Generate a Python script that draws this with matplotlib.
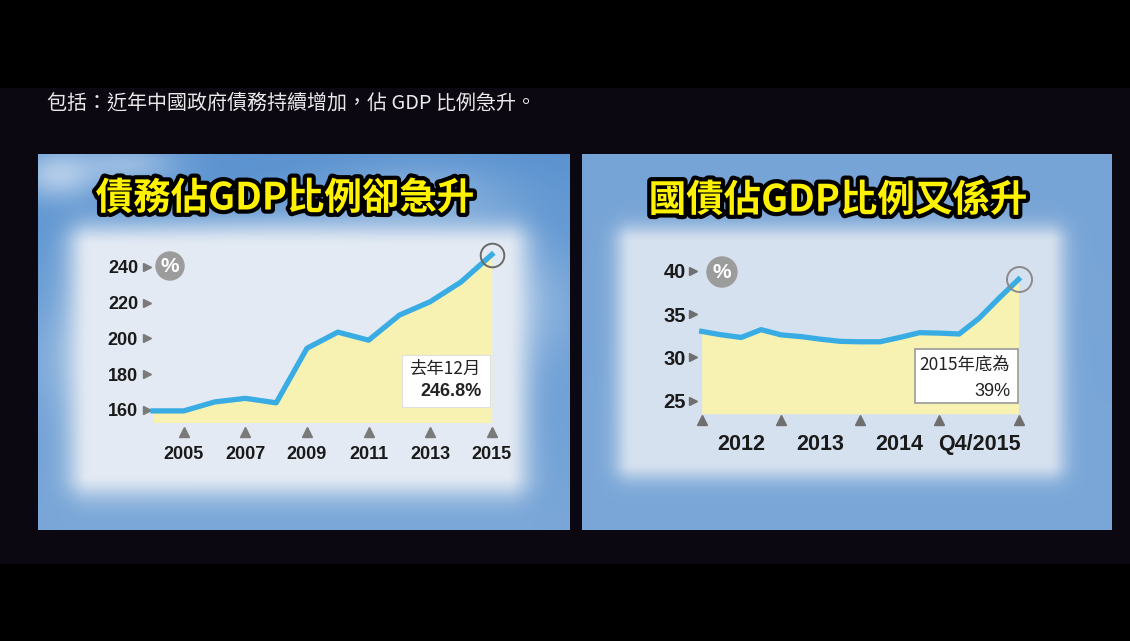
import numpy as np
import matplotlib
matplotlib.use("Agg")
import matplotlib.pyplot as plt
import matplotlib.patheffects as pe
from matplotlib.patches import Rectangle, Circle
import matplotlib.transforms as mtrans

# 資料：債務佔GDP比例 (年度) 及 國債佔GDP比例 (季度)
debt_years = [2004, 2005, 2006, 2007, 2008, 2009, 2010, 2011, 2012, 2013, 2014, 2015]
debt_ratio = [159.5, 159.5, 164.5, 166.5, 164.0, 194.5, 203.5, 199.0, 213.0, 220.5, 231.5, 246.8]
debt_xticks = [2005, 2007, 2009, 2011, 2013, 2015]
debt_yticks = [160, 180, 200, 220, 240]

gov_quarters = ["Q4/2011", "Q1/2012", "Q2/2012", "Q3/2012", "Q4/2012",
                "Q1/2013", "Q2/2013", "Q3/2013", "Q4/2013",
                "Q1/2014", "Q2/2014", "Q3/2014", "Q4/2014",
                "Q1/2015", "Q2/2015", "Q3/2015", "Q4/2015"]
gov_ratio = [33.0, 32.6, 32.3, 33.2, 32.6, 32.4, 32.1, 31.85, 31.8,
             31.8, 32.3, 32.85, 32.8, 32.7, 34.5, 36.8, 39.0]
gov_year_marks = [0, 4, 8, 12, 16]
gov_label_pos = [2, 6, 10, 14]
gov_labels = ["2012", "2013", "2014", "Q4/2015"]
gov_yticks = [25, 30, 35, 40]

caption = "包括：近年中國政府債務持續增加，佔 GDP 比例急升。"
title_left = "債務佔GDP比例卻急升"
title_right = "國債佔GDP比例又係升"

CJK = ["Noto Sans CJK TC", "DejaVu Sans"]
NUM = ["Liberation Sans Narrow", "Liberation Sans", "DejaVu Sans"]
LINE = "#38ace3"
FILL = "#f7f2b2"

W, H = 1130, 641
fig = plt.figure(figsize=(W / 100, H / 100), dpi=100, facecolor="black")

bg = fig.add_axes([0, 0, 1, 1])
bg.axis("off")


def soft_box(h, w, x0, x1, y0, y1, s):
    yy, xx = np.mgrid[0:h, 0:w]
    dx = np.maximum(np.maximum(x0 - xx, xx - x1), 0)
    dy = np.maximum(np.maximum(y0 - yy, yy - y1), 0)
    d = np.hypot(dx, dy)
    return np.exp(-(d / s) ** 2)


def hex2rgb(c):
    return np.array(matplotlib.colors.to_rgb(c))


def panel_img(w, h, top, bottom, inner, box, clouds=()):
    t = np.linspace(0, 1, h)[:, None, None]
    img = hex2rgb(top) * (1 - t) + hex2rgb(bottom) * t
    img = np.repeat(img, w, axis=1)
    yy, xx = np.mgrid[0:h, 0:w]
    for cx, cy, rx, ry, a in clouds:
        m = a * np.exp(-(((xx - cx) / rx) ** 2 + ((yy - cy) / ry) ** 2))
        img = img * (1 - m[..., None]) + np.ones(3) * m[..., None]
    m = soft_box(h, w, *box)
    img = img * (1 - m[..., None]) + hex2rgb(inner) * m[..., None]
    return np.clip(img, 0, 1)


# 背景
bg.add_patch(Rectangle((0, 88), W, 475, color="#0b0811", zorder=0))
left_clouds = [(20, 20, 40, 25, 0.5), (90, 10, 50, 20, 0.35), (380, 40, 90, 30, 0.25),
               (240, 110, 140, 40, 0.35), (460, 150, 80, 60, 0.3), (60, 200, 70, 60, 0.25)]
img_l = panel_img(532, 376, "#5b93d0", "#7aa7d8", "#e3eaf3", (52, 468, 92, 320, 24), left_clouds)
img_r = panel_img(530, 376, "#77a4d6", "#7aa7d8", "#d6e1ef", (50, 466, 88, 308, 18))
bg.imshow(img_l, extent=(38, 570, 530, 154), aspect="auto", zorder=1)
bg.imshow(img_r, extent=(582, 1112, 530, 154), aspect="auto", zorder=1)
bg.set_xlim(0, W)
bg.set_ylim(H, 0)

bg.text(47, 103, caption, color="#e9e9e9", fontsize=14.4, family=CJK, va="center", ha="left")

for txt, cx, cy in [(title_left, 285, 198), (title_right, 838, 200)]:
    bg.text(cx, cy, txt, color="#fff200", fontsize=27, family=CJK, fontweight="heavy",
            ha="center", va="center", zorder=5,
            path_effects=[pe.withStroke(linewidth=6, foreground="black")])


def px_axes(x0, y0, x1, y1):
    a = fig.add_axes([x0 / W, 1 - y1 / H, (x1 - x0) / W, (y1 - y0) / H])
    a.patch.set_alpha(0)
    for s in a.spines.values():
        s.set_visible(False)
    return a


# 左圖
ax = px_axes(145, 240, 520, 425)
ax.set_xlim(2003.74, 2015.916)
ax.set_ylim(151.62, 254.97)
ax.fill_between(debt_years, debt_ratio, 153, color=FILL, lw=0, zorder=1)
ax.plot(debt_years, debt_ratio, color=LINE, lw=3.8, solid_joinstyle="round", zorder=3)
ax.plot(debt_years[-1], debt_ratio[-1], "o", mfc="none", mec="#6a6a6a", ms=17, mew=1.4, zorder=4)
ax.set_xticks(debt_xticks, [str(y) for y in debt_xticks])
ax.set_yticks(debt_yticks, [str(v) for v in debt_yticks])
ax.tick_params(length=0)
ax.tick_params(axis="x", pad=15, labelsize=13)
ax.tick_params(axis="y", pad=5, labelsize=13)
for lab in ax.get_xticklabels() + ax.get_yticklabels():
    lab.set_family(NUM)
    lab.set_fontweight("bold")
    lab.set_color("#1a1a1a")
tx = mtrans.blended_transform_factory(ax.transData, ax.transAxes)
ty = mtrans.blended_transform_factory(ax.transAxes, ax.transData)
ax.plot(debt_xticks, [-0.038] * len(debt_xticks), "^", color="#7a7a7a", ms=7, transform=tx, clip_on=False)
ax.plot([0.005] * len(debt_yticks), debt_yticks, ">", color="#7a7a7a", ms=6, transform=ty, clip_on=False)

# 右圖
ax2 = px_axes(690, 255, 1035, 420)
ax2.set_xlim(-0.591, 16.83)
ax2.set_ylim(22.78, 41.81)
ax2.fill_between(range(len(gov_ratio)), gov_ratio, 23.5, color=FILL, lw=0, zorder=1)
ax2.plot(range(len(gov_ratio)), gov_ratio, color=LINE, lw=3.8, solid_joinstyle="round", zorder=3)
ax2.plot(len(gov_ratio) - 1, gov_ratio[-1], "o", mfc="none", mec="#8a8a8a", ms=18, mew=1.4, zorder=4)
ax2.set_xticks(gov_label_pos, gov_labels)
ax2.set_yticks(gov_yticks, [str(v) for v in gov_yticks])
ax2.tick_params(length=0)
ax2.tick_params(axis="x", pad=10, labelsize=15.5)
ax2.tick_params(axis="y", pad=3, labelsize=14.5)
for lab in ax2.get_xticklabels() + ax2.get_yticklabels():
    lab.set_family(NUM)
    lab.set_fontweight("bold")
    lab.set_color("#1a1a1a")
tx2 = mtrans.blended_transform_factory(ax2.transData, ax2.transAxes)
ty2 = mtrans.blended_transform_factory(ax2.transAxes, ax2.transData)
ax2.plot(gov_year_marks, [-0.0] * len(gov_year_marks), "^", color="#6f6f6f", ms=7, transform=tx2, clip_on=False)
ax2.plot([0.008] * len(gov_yticks), gov_yticks, ">", color="#6f6f6f", ms=6, transform=ty2, clip_on=False)

# % 標記
top = fig.add_axes([0, 0, 1, 1])
top.axis("off")
top.set_xlim(0, W)
top.set_ylim(H, 0)
for cx, cy, r in [(170, 266, 14), (722, 272, 15)]:
    top.add_patch(Circle((cx, cy), r, color="#9c9c9c", zorder=5))
    top.text(cx, cy + 1, "%", color="white", fontsize=15, family=NUM, fontweight="bold",
             ha="center", va="center", zorder=6)

# 註解框
top.add_patch(Rectangle((402, 355), 88, 52, facecolor="white", edgecolor="#e0e0e0", lw=0.8, zorder=5))
top.text(480, 369, "去年12月", fontsize=12.5, family=CJK, color="#222222", ha="right", va="center", zorder=6)
top.text(482, 392, f"{debt_ratio[-1]}%", fontsize=13, family=NUM, fontweight="bold",
         color="#222222", ha="right", va="center", zorder=6)

top.add_patch(Rectangle((915, 349), 103, 54, facecolor="white", edgecolor="#9a9a9a", lw=1.2, zorder=5))
top.text(1010, 366, "2015年底為", fontsize=12.5, family=CJK, color="#222222", ha="right", va="center", zorder=6)
top.text(1010, 391, f"{gov_ratio[-1]:.0f}%", fontsize=13, family=NUM,
         color="#222222", ha="right", va="center", zorder=6)

fig.savefig("out.png", dpi=100, facecolor="black")
